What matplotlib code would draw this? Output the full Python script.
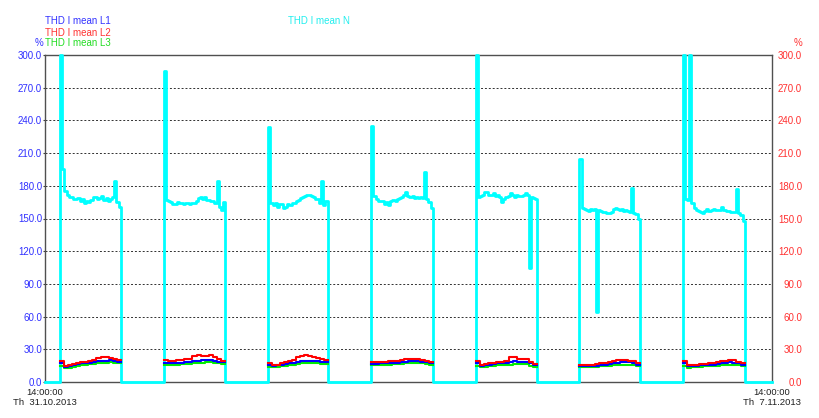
#!/usr/bin/env python3
import matplotlib
matplotlib.use("Agg")
import matplotlib.pyplot as plt
import numpy as np

# hours after 14:00 Th 31.10.2013
seg_start = [3.5, 27.5, 51.6, 75.4, 99.5, 123.5, 147.4]
seg_end = [17.5, 41.6, 65.3, 89.6, 113.8, 137.4, 161.7]

# THD I mean N (%), ~30 min samples per working segment
thd_n = [
    [300, 195, 175, 172, 170, 170, 168, 168, 169, 166, 168, 164, 166, 165,
     167, 170, 170, 168, 169, 171, 167, 169, 166, 168, 170, 184, 165, 161],
    [285, 167, 166, 165, 163, 163, 165, 164, 164, 163, 164, 164, 163, 164,
     164, 166, 169, 170, 168, 170, 167, 167, 166, 166, 164, 184, 161, 158, 165],
    [234, 164, 162, 164, 161, 163, 163, 160, 161, 163, 162, 164, 164, 166,
     167, 169, 170, 171, 172, 172, 171, 170, 168, 168, 164, 184, 162, 166],
    [235, 171, 168, 166, 166, 166, 163, 165, 162, 166, 167, 166, 168, 169,
     170, 172, 174, 171, 170, 171, 169, 170, 169, 170, 169, 193, 168, 165, 160],
    [300, 170, 171, 172, 174, 174, 172, 172, 173, 171, 172, 170, 165, 168,
     170, 171, 173, 172, 170, 172, 171, 171, 172, 173, 172, 105, 170, 169, 168],
    [205, 160, 159, 158, 157, 159, 158, 159, 64, 158, 157, 156, 156, 155,
     155, 156, 159, 160, 159, 158, 159, 157, 158, 157, 156, 178, 155, 154, 150],
    [300, 168, 167, 300, 164, 160, 158, 157, 156, 155, 157, 159, 157, 158,
     159, 158, 158, 158, 161, 158, 157, 157, 156, 156, 156, 177, 155, 153, 148],
]

# THD I mean L1/L2/L3 (%), hourly samples per segment
thd_l1 = [
    [17, 14, 14.5, 15.5, 16.5, 17, 17, 17.5, 18, 19, 19.5, 19.5, 20, 19, 18.5],
    [17, 17, 17.2, 17.5, 17.8, 18, 18, 19, 19.5, 20, 20, 20, 19.5, 18.5, 18],
    [15.5, 15, 15.5, 16, 16.5, 17, 17.5, 18.5, 19, 19.5, 19.5, 19.5, 19, 18.5, 18],
    [16.5, 16.5, 17, 17, 17, 17.5, 17.5, 18, 18.5, 19, 19, 19, 18.5, 18, 17],
    [17, 15, 15.5, 16, 16.5, 17, 17, 17, 18, 19, 18.5, 18.5, 18.5, 17, 16],
    [15, 14.5, 14.5, 15, 15, 15.5, 16, 16.5, 17, 17.5, 18, 18, 18, 17.5, 16],
    [17, 14.5, 14.5, 15, 15.5, 15.5, 16, 16, 16.5, 17, 17.5, 18, 17.5, 17, 16],
]
thd_l2 = [
    [19.6, 15, 15.5, 16.5, 17.5, 18, 18.5, 19, 20.5, 22, 22.5, 22.5, 22, 21, 19.8],
    [20, 19.5, 19.5, 20, 20.5, 21, 21.5, 24, 24.5, 24, 24, 24.5, 22.5, 21, 19.5],
    [17, 15.5, 16, 17, 18, 19, 20.5, 22.5, 24, 24.5, 24, 23, 22, 21, 20],
    [18, 18, 18, 18.5, 19, 19.5, 19.5, 20, 21, 21.5, 21, 21, 20.5, 19.5, 18],
    [19, 16, 16.5, 17, 17.5, 18, 18.5, 19, 22.5, 23, 21.5, 21.5, 21, 18.5, 16.5],
    [16, 15.5, 15.5, 16, 16.5, 17, 17.5, 18.5, 19.5, 20, 20, 20, 19.5, 19, 17],
    [19.5, 15.5, 15.5, 16, 16.5, 16.5, 17, 17.5, 18, 19.5, 19.5, 20.5, 20, 18.5, 17],
]
thd_l3 = [
    [15, 13, 13.2, 14, 15, 15.5, 15.8, 16.2, 16.5, 17, 17.5, 17.8, 18, 17.5, 17],
    [15.5, 15.5, 15.8, 16, 16.2, 16.5, 16.8, 17, 17.5, 17.8, 18, 18, 17.5, 17, 16.5],
    [14, 13.5, 14, 14.5, 15, 15.5, 16, 16.5, 17, 17.5, 17.5, 17.5, 17, 16.5, 16.5],
    [15.5, 15.5, 15.8, 16, 16, 16.2, 16.5, 16.5, 17, 17, 17.2, 17, 17, 16.5, 16],
    [15, 13.5, 14, 14.5, 15, 15.5, 15.5, 15.5, 16, 16.5, 16.5, 16.5, 16.5, 15, 14],
    [13.5, 13.5, 13.5, 14, 14, 14.5, 14.5, 15, 15.5, 15.5, 16, 16, 16, 16, 15],
    [15, 13, 13.5, 14, 14, 14.5, 14.5, 15, 15, 15.5, 15.5, 16, 16, 15.5, 15],
]

y_ticks = np.arange(0, 301, 30)
t_total = 168.0
left_label = "14:00:00\nTh  31.10.2013"
right_label = "14:00:00\nTh  7.11.2013"

C_L1 = "#0000ff"
C_L2 = "#ff0000"
C_L3 = "#00ee00"
C_N = "#00ffff"


def build_n_series():
    # N drops to 0 between segments
    t, v = [0.0], [0.0]
    for s, e, vals in zip(seg_start, seg_end, thd_n):
        d = (e - s) / len(vals)
        t += [s + i * d for i in range(len(vals))] + [e]
        v += list(vals) + [0.0]
    t.append(t_total)
    v.append(0.0)
    return np.array(t), np.array(v, dtype=float)


def build_l_series(series):
    # phase values only exist while the load is on
    t, v = [], []
    for s, e, vals in zip(seg_start, seg_end, series):
        d = (e - s) / len(vals)
        t += [s + i * d for i in range(len(vals))] + [e, e]
        v += list(vals) + [vals[-1], np.nan]
    return np.array(t), np.array(v, dtype=float)


plt.rcParams["font.family"] = ["Liberation Sans", "DejaVu Sans"]

fig = plt.figure(figsize=(8.2, 4.18), dpi=100)
ax = fig.add_axes([45 / 820, 1 - 382 / 418, 727 / 820, 327 / 418])

tn, vn = build_n_series()
ax.plot(tn, vn, color=C_N, lw=2.0, drawstyle="steps-post", zorder=3,
        clip_on=False)
for series, col in [(thd_l3, C_L3), (thd_l1, C_L1), (thd_l2, C_L2)]:
    tl, vl = build_l_series(series)
    ax.plot(tl, vl, color=col, lw=1.5, drawstyle="steps-post", zorder=4)

ax.set_xlim(0, t_total)
ax.set_ylim(0, 300)
ax.set_yticks(y_ticks)
ax.set_yticklabels([f"{y:.1f}" for y in y_ticks], fontsize=7, color="#3030ff")
ax.tick_params(axis="y", length=1.5, width=0.8, pad=0.7, color="#404040")
ax.grid(axis="y", color="#303030", linestyle=(0, (2, 2)), linewidth=0.7)
ax.set_xticks([0, t_total])
ax.set_xticklabels([left_label, right_label], fontsize=6.8, color="#202020",
                   linespacing=1.25)
ax.tick_params(axis="x", length=0, pad=4)
for sp in ax.spines.values():
    sp.set_color("#505050")
    sp.set_linewidth(1.0)

ax2 = ax.twinx()
ax2.set_ylim(0, 300)
ax2.set_yticks(y_ticks)
ax2.set_yticklabels([f"{y:.1f}" for y in y_ticks], fontsize=7, color="#ff3030",
                    ha="right")
ax2.tick_params(axis="y", length=0, pad=21.6)
for sp in ax2.spines.values():
    sp.set_visible(False)

# legend-like labels above the plot
fig.text(45 / 820, 1 - 21.5 / 418, "THD I mean L1", color="#3333ff", fontsize=7, va="center")
fig.text(45 / 820, 1 - 32.5 / 418, "THD I mean L2", color="#ff3333", fontsize=7, va="center")
fig.text(45 / 820, 1 - 43.5 / 418, "THD I mean L3", color="#22dd22", fontsize=7, va="center")
fig.text(288 / 820, 1 - 21.5 / 418, "THD I mean N", color="#22eeee", fontsize=7, va="center")
fig.text(43 / 820, 1 - 43.5 / 418, "%", color="#3333ff", fontsize=7, va="center", ha="right")
fig.text(802 / 820, 1 - 43.5 / 418, "%", color="#ff3333", fontsize=7, va="center", ha="right")

fig.savefig("out.png", dpi=100)
